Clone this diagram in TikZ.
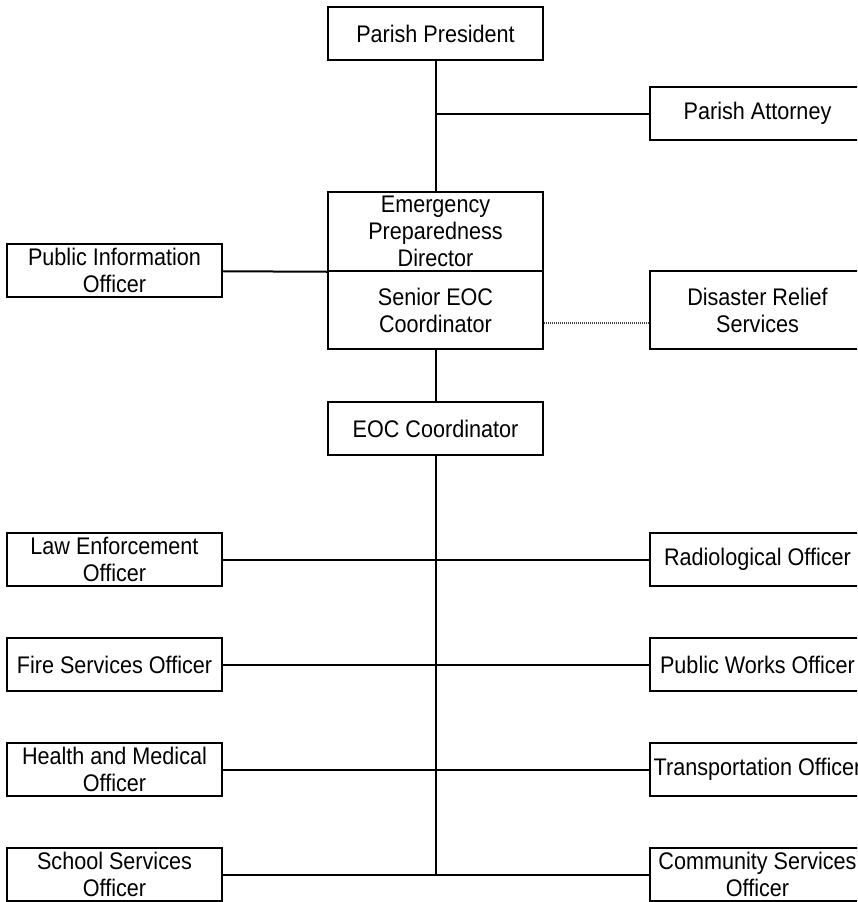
\documentclass[tikz,border=0pt]{standalone}
\usepackage{fontspec}
\setmainfont{Liberation Sans}[FakeStretch=0.9]
\usepackage{tikz}
\usetikzlibrary{positioning}

\begin{document}
\begin{tikzpicture}[on grid, font=\fontsize{24}{27}\selectfont]
\tikzstyle{box}=[draw=black, line width=2pt, fill=white, minimum width=215pt, minimum height=53pt, inner sep=0pt, align=center]
\tikzstyle{side}=[box, anchor=center]
\tikzstyle{link}=[draw=black, line width=2pt]
\tikzstyle{dotlink}=[draw=black!75, line width=1.3pt, dash pattern=on 1.2pt off 0.8pt]
\useasboundingbox (0,0) rectangle (857pt,-902pt);
\clip (0,0) rectangle (857pt,-902pt);
% main column
\node[box]    (pres)  at (435.5pt,-33.5pt)            {Parish President};
\node[box, minimum height=78.5pt]  (epd)   [below=198pt of pres]    {Emergency\\Preparedness\\Director};
\node[box, minimum height=78.5pt]  (senior)[below=78.5pt of epd]    {Senior EOC\\Coordinator};
\node[box]    (eoc)   [below=118.75pt of senior]      {EOC Coordinator};
% junctions on the trunk
\coordinate[below=80pt of pres]     (ja);
\coordinate[below=39.25pt of epd]   (jp);
\coordinate[below=131pt of eoc]     (r1);
\coordinate[below=105pt of r1]      (r2);
\coordinate[below=105pt of r2]      (r3);
\coordinate[below=105pt of r3]      (r4);
% staff
\node[box, right=322pt of ja, anchor=center]      (atty)    {Parish Attorney};
\node[box, left=321pt of jp, anchor=center]       (pio)     {Public Information\\Officer};
\node[box, minimum height=78.5pt]  (relief)[right=322pt of senior]  {Disaster Relief\\Services};
% officers
\node[box, left=321pt of r1, anchor=center]    (law)      {Law Enforcement\\Officer};
\node[box, left=321pt of r2, anchor=center]    (fire)     {Fire Services Officer};
\node[box, left=321pt of r3, anchor=center]    (health)   {Health and Medical\\Officer};
\node[box, left=321pt of r4, anchor=center]    (school)   {School Services\\Officer};
\node[box, right=322pt of r1, anchor=center]   (radio)    {Radiological Officer};
\node[box, right=322pt of r2, anchor=center]   (works)    {Public Works Officer};
\node[box, right=322pt of r3, anchor=center]   (trans)    {Transportation Officer};
\node[box, right=322pt of r4, anchor=center]   (comm)     {Community Services\\Officer};
\draw[link] (pres)   -- (epd);
\draw[link] (ja)     -- (atty);
\draw[link] (pio)    -- (epd.south west);
\draw[link] (senior) -- (eoc);
\draw[link] (eoc)    -- (r4);
\draw[link] (law)    -- (radio);
\draw[link] (fire)   -- (works);
\draw[link] (health) -- (trans);
\draw[link] (school) -- (comm);
\draw[dotlink] ([yshift=-13pt]senior.east) -- ([yshift=-13pt]relief.west);
\end{tikzpicture}
\end{document}
